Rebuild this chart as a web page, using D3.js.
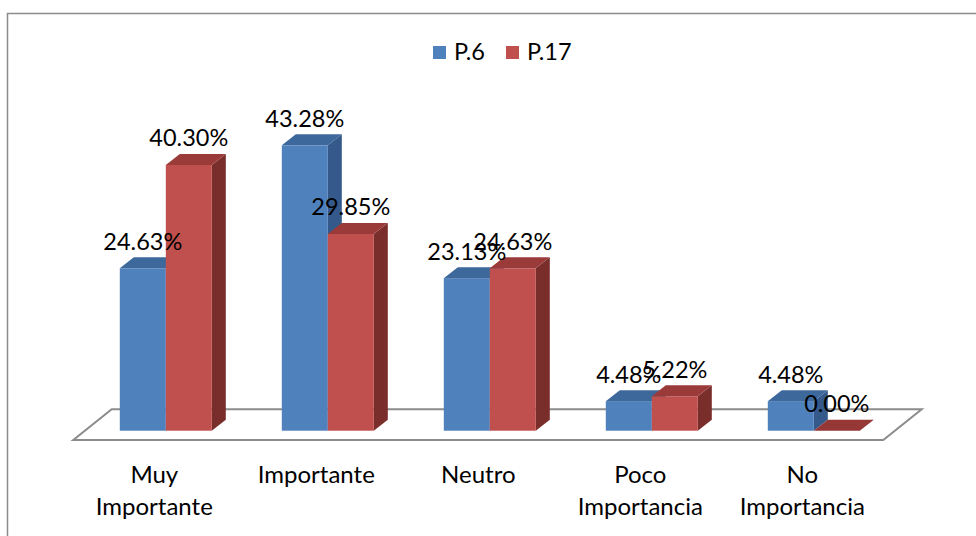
<!DOCTYPE html>
<html>
<head>
<meta charset="utf-8">
<script src="https://cdn.jsdelivr.net/npm/d3@7"></script>
<style>
  html, body { margin: 0; padding: 0; background: #fff; }
  svg { display: block; font-family: Lato, "Open Sans", sans-serif; }
</style>
</head>
<body>
<svg id="chart" width="976" height="536"></svg>
<script>
// Categories and series
const categories = [["Muy", "Importante"], ["Importante"], ["Neutro"], ["Poco", "Importancia"], ["No", "Importancia"]];
const seriesNames = ["P.6", "P.17"];
const p6Values  = [24.63, 43.28, 23.13, 4.48, 4.48];
const p17Values = [40.30, 29.85, 24.63, 5.22, 0.00];
const valueMax = 45;

const seriesColors = [
  { front: "#4F81BD", top: "#3D689C", side: "#34598A" },
  { front: "#C0504D", top: "#9B3B39", side: "#7A2E2C" }
];

const svg = d3.select("#chart");

// Chart frame
svg.append("rect")
  .attr("x", 7.5).attr("y", 13.5)
  .attr("width", 1000).attr("height", 600)
  .attr("fill", "none").attr("stroke", "#8C8C8C").attr("stroke-width", 1.5);

// Floor geometry: front edge and depth vector
const floorFrontY = 440;
const floorLeft = 73.3, floorRight = 883.3;
const floorDepth = { dx: 38.4, dy: -30.7 };
const barOffset = { dx: 11.5, dy: -9.3 };   // bars stand a little behind the front edge
const barDepth = { dx: 14, dy: -11 };
const baseY = floorFrontY + barOffset.dy;

const x = d3.scaleBand().domain(d3.range(categories.length)).range([floorLeft, floorRight]).padding(0);
const groupWidth = 92;
const xs = d3.scaleBand().domain(d3.range(seriesNames.length)).range([0, groupWidth]).padding(0);
const h = d3.scaleLinear().domain([0, valueMax]).range([0, 296.7]);

// Floor outline
const floorPts = [
  [floorLeft, floorFrontY],
  [floorRight, floorFrontY],
  [floorRight + floorDepth.dx, floorFrontY + floorDepth.dy],
  [floorLeft + floorDepth.dx, floorFrontY + floorDepth.dy]
];
svg.append("polygon")
  .attr("points", floorPts.map(p => p.join(",")).join(" "))
  .attr("fill", "#fff").attr("stroke", "#8C8C8C").attr("stroke-width", 2)
  .attr("stroke-linejoin", "miter");

// Bars
const bars = [];
categories.forEach((c, i) => {
  [p6Values, p17Values].forEach((vals, s) => {
    const x0 = x(i) + (x.bandwidth() - groupWidth) / 2 + xs(s) + barOffset.dx;
    bars.push({ i, s, v: vals[i], x0, w: xs.bandwidth(), hh: h(vals[i]) });
  });
});

const g = svg.append("g");
bars.forEach(b => {
  const col = seriesColors[b.s];
  const top = baseY - b.hh;
  const x1 = b.x0 + b.w;
  const bg = g.append("g");
  if (b.hh > 0) {
    // side face
    bg.append("polygon")
      .attr("points", [[x1, top], [x1 + barDepth.dx, top + barDepth.dy], [x1 + barDepth.dx, baseY + barDepth.dy], [x1, baseY]].map(p => p.join(",")).join(" "))
      .attr("fill", col.side);
    // front face
    bg.append("rect")
      .attr("x", b.x0).attr("y", top).attr("width", b.w).attr("height", b.hh)
      .attr("fill", col.front);
  }
  // top face
  bg.append("polygon")
    .attr("points", [[b.x0, top], [x1, top], [x1 + barDepth.dx, top + barDepth.dy], [b.x0 + barDepth.dx, top + barDepth.dy]].map(p => p.join(",")).join(" "))
    .attr("fill", b.hh > 0 ? col.top : "#953735");
});

// Value labels
svg.append("g").selectAll("text")
  .data(bars)
  .join("text")
  .attr("x", d => d.x0 + d.w / 2)
  .attr("y", d => baseY - d.hh - 18.5)
  .attr("text-anchor", "middle")
  .attr("font-size", 23.5)
  .attr("fill", "#000")
  .text(d => d.v.toFixed(2) + "%");

// Category labels
const catG = svg.append("g");
categories.forEach((lines, i) => {
  const t = catG.append("text")
    .attr("x", x(i) + x.bandwidth() / 2)
    .attr("y", 483)
    .attr("text-anchor", "middle")
    .attr("font-size", 24)
    .attr("fill", "#000");
  lines.forEach((ln, k) => {
    t.append("tspan").attr("x", x(i) + x.bandwidth() / 2).attr("dy", k === 0 ? 0 : 32).text(ln);
  });
});

// Legend
const legend = svg.append("g");
const legendItems = [{ x: 433, name: seriesNames[0] }, { x: 506, name: seriesNames[1] }];
legendItems.forEach((d, k) => {
  legend.append("rect")
    .attr("x", d.x).attr("y", 46).attr("width", 13).attr("height", 13)
    .attr("fill", seriesColors[k].front);
  legend.append("text")
    .attr("x", d.x + 21).attr("y", 60)
    .attr("font-size", 23.5).attr("fill", "#000")
    .text(d.name);
});
</script>
</body>
</html>
